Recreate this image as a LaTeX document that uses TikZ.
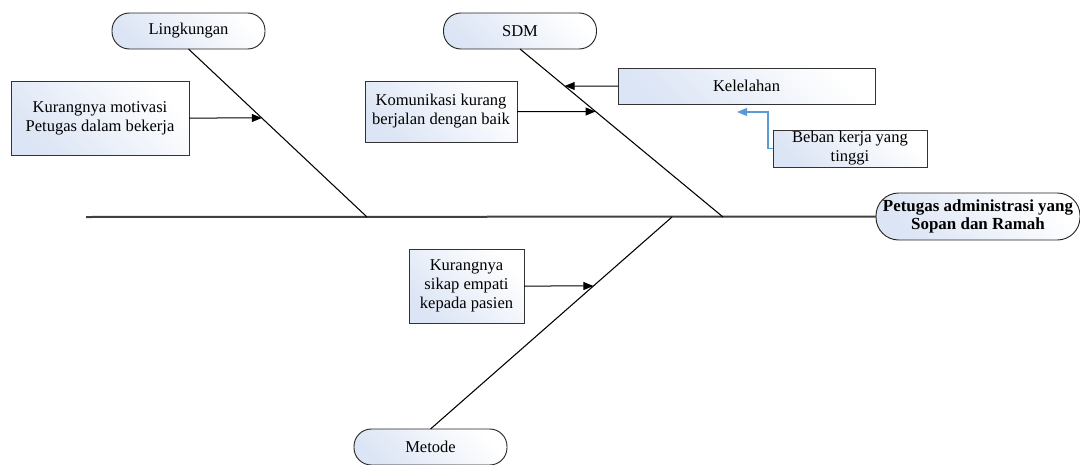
\documentclass[tikz,border=0pt]{standalone}
\usepackage{fontspec}
\setmainfont{Liberation Serif}
\usetikzlibrary{arrows.meta,calc}
\definecolor{gradblue}{HTML}{DCE5F5}
\definecolor{spinegray}{HTML}{404040}
\definecolor{linkblue}{HTML}{5B9BD5}
\begin{document}
\begin{tikzpicture}[x=0.75pt,y=0.75pt,
  every node/.style={font=\fontsize{12.4}{14.25}\selectfont, align=center, inner sep=0pt, outer sep=0pt},
  shadefill/.style={top color=gradblue, bottom color=white, shading angle=135},
  catpill/.style={shadefill, draw=black!85, line width=0.7pt, rounded corners=13pt,
    minimum width=114.75pt, minimum height=27pt},
  headpill/.style={shadefill, draw=black!85, line width=0.7pt, rounded corners=17pt,
    minimum width=153pt, minimum height=35.25pt, font=\fontsize{12.7}{13.5}\selectfont\bfseries},
  causebox/.style={shadefill, draw=black!80, line width=0.6pt},
  spine/.style={draw=spinegray, line width=1.5pt},
  bone/.style={draw=black, line width=0.8pt},
  causearrow/.style={draw=black, line width=0.75pt, -{Triangle[length=7.5pt,width=6pt]}},
  subarrow/.style={draw=linkblue, line width=0.9pt, -{Triangle[length=7.5pt,width=6pt]}}
]
\useasboundingbox (0,0) rectangle (1080,-464);

% effect (head) and category labels
\node[headpill] (head) at (978,-216.5) {Petugas administrasi yang\\Sopan dan Ramah};
\node[catpill] (ling) at (188.5,-31) {Lingkungan};
\node[catpill] (sdm) at (520,-31) {SDM};
\node[catpill] (met) at (430.5,-447) {Metode};

% causes
\node[causebox, minimum width=133.5pt, minimum height=55.5pt] (c1) at (100,-118)
  {Kurangnya motivasi\\Petugas dalam bekerja};
\node[causebox, minimum width=114pt, minimum height=45.75pt] (c2) at (441,-111.5)
  {Komunikasi kurang\\berjalan dengan baik};
\node[causebox, minimum width=192.75pt, minimum height=27pt] (kel) at (746.5,-86)
  {Kelelahan};
\node[causebox, minimum width=115.5pt, minimum height=27.75pt] (beban) at (850,-148.5)
  {Beban kerja yang\\tinggi};
\node[causebox, minimum width=86.25pt, minimum height=55.5pt] (c3) at (466.5,-286)
  {Kurangnya\\sikap empati\\kepada pasien};

% spine and bones
\coordinate (tail) at (86,-217);
\coordinate (j1) at (367,-217);
\coordinate (j2) at (723,-217);
\coordinate (j3) at (672,-217);
\draw[spine] (tail) -- (head.west);
\draw[bone] (ling.south) -- (j1);
\draw[bone] (sdm.south) -- (j2);
\draw[bone] (met.north) -- (j3);

% helper points for horizontal arrow directions
\coordinate (c1r) at ([xshift=10pt]c1.east);
\coordinate (c2r) at ([xshift=10pt]c2.east);
\coordinate (c3r) at ([xshift=10pt]c3.east);
\coordinate (kell) at ([xshift=-10pt]kel.west);

\draw[causearrow] (c1.east) -- (intersection of c1.east--c1r and ling.south--j1);
\draw[causearrow] (c2.east) -- (intersection of c2.east--c2r and sdm.south--j2);
\draw[causearrow] (kel.west) -- (intersection of kel.west--kell and sdm.south--j2);
\draw[causearrow] (c3.east) -- (intersection of c3.east--c3r and met.north--j3);

% sub-cause link
\coordinate (keltip) at (737,-112);
\draw[subarrow] (beban.west) -- ++(-5,0) |- (keltip);
\end{tikzpicture}
\end{document}
